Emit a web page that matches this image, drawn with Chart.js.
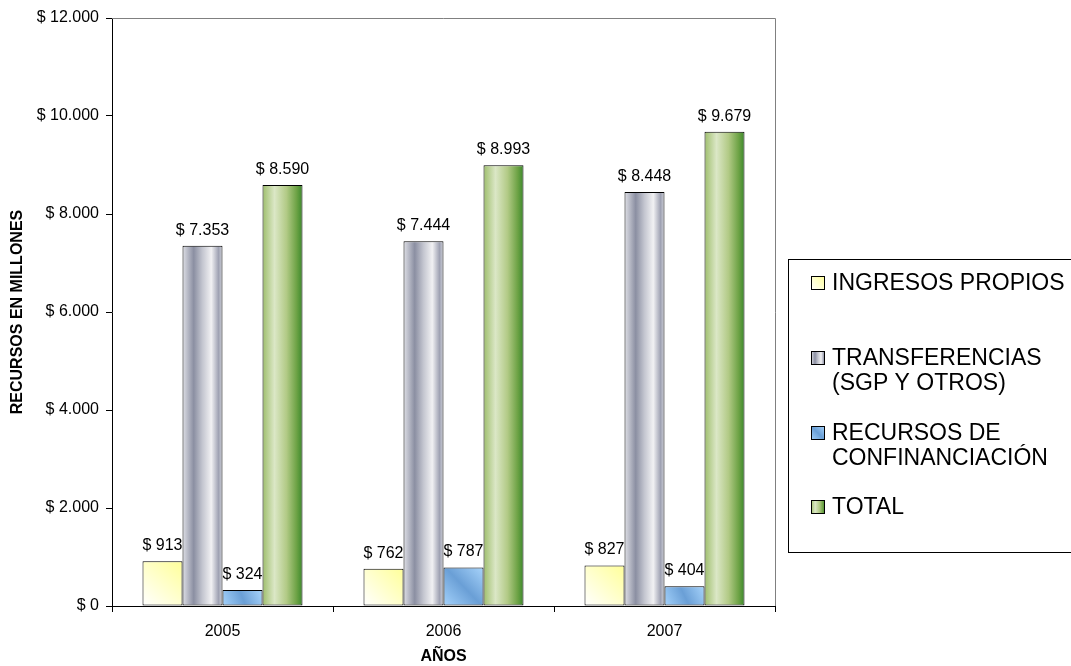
<!DOCTYPE html>
<html>
<head>
<meta charset="utf-8">
<script src="https://cdn.jsdelivr.net/npm/chart.js@4.4.0/dist/chart.umd.min.js"></script>
<style>
  html, body { margin: 0; background: #fff; }
  #wrap { position: relative; width: 1071px; height: 666px; }
</style>
</head>
<body>
<div id="wrap"><canvas id="chart"></canvas></div>
<script>
// Recursos por año (millones de pesos), cuatro series agrupadas por año.
const YEARS = ["2005", "2006", "2007"];
const INGRESOS_PROPIOS = [913, 762, 827];
const TRANSFERENCIAS = [7353, 7444, 8448];
const COFINANCIACION = [324, 787, 404];
const TOTAL = [8590, 8993, 9679];
const Y_TICKS = [0, 2000, 4000, 6000, 8000, 10000, 12000];
const LEGEND_LINES = [
  ["INGRESOS PROPIOS"],
  ["TRANSFERENCIAS", "(SGP Y OTROS)"],
  ["RECURSOS DE", "CONFINANCIACIÓN"],
  ["TOTAL"],
];

const FONT = '"Liberation Sans", Arial, sans-serif';

// gradient stops for each series (Excel-ish "preset" fills)
const FILLS = [
  { diag: true, stops: [[0, "#ffffff"], [1, "#ffff99"]] },
  { stops: [[0, "#dfe0e6"], [0.28, "#8b8fa2"], [0.5, "#c4c6d0"], [0.72, "#f1f1f3"], [0.9, "#9fa2b3"], [1, "#cfd1d9"]] },
  { diag: true, stops: [[0, "#a4d2fb"], [0.5, "#6a9fd6"], [1, "#a8d4fb"]] },
  { stops: [[0, "#9ebe6c"], [0.3, "#dbe7c6"], [0.6, "#b2ca86"], [0.85, "#6ea346"], [1, "#3b892b"]] },
];

function fmt(n) {
  return "$ " + String(n).replace(/\B(?=(\d{3})+(?!\d))/g, ".");
}

function makeFill(ctx, spec, x0, x1, top, bottom) {
  const g = spec.diag
    ? ctx.createLinearGradient(x0, bottom, x1, top)
    : ctx.createLinearGradient(x0, 0, x1, 0);
  spec.stops.forEach(([p, c]) => g.addColorStop(p, c));
  return g;
}

function series(label, data) {
  return {
    label,
    data,
    backgroundColor: () => "#cccccc", // replaced per bar at draw time
    borderColor: "#000000",
    borderWidth: 1,
    borderSkipped: false,
  };
}

// Draw bars series by series, each followed by its value labels, so the next
// series' bars sit over the previous labels (as in the original).
const barsAndLabels = {
  id: "barsAndLabels",
  beforeDatasetsDraw(chart) {
    const { ctx, chartArea: a } = chart;
    ctx.save();
    ctx.strokeStyle = "#808080";
    ctx.lineWidth = 1;
    ctx.beginPath();
    ctx.moveTo(a.left, a.top + 0.5);
    ctx.lineTo(a.right + 0.5, a.top + 0.5);
    ctx.lineTo(a.right + 0.5, a.bottom);
    ctx.stroke();
    ctx.restore();

    chart.data.datasets.forEach((ds, i) => {
      const meta = chart.getDatasetMeta(i);
      meta.data.forEach((el) => {
        const { x, y, base, width } = el.getProps(["x", "y", "base", "width"], true);
        el.options.backgroundColor = makeFill(ctx, FILLS[i], x - width / 2, x + width / 2, y, base);
        el.draw(ctx);
      });
      ctx.save();
      ctx.font = "16px " + FONT;
      ctx.fillStyle = "#000";
      ctx.textAlign = "center";
      ctx.textBaseline = "alphabetic";
      meta.data.forEach((el, j) => {
        const { x, y } = el.getProps(["x", "y"], true);
        ctx.fillText(fmt(ds.data[j]), x, y - 11);
      });
      ctx.restore();
    });
    return false;
  },
  afterDraw(chart) {
    const ctx = chart.ctx;
    ctx.save();
    ctx.strokeStyle = "#000";
    ctx.lineWidth = 1;
    ctx.strokeRect(788.5, 259.5, 400, 293);
    const centers = [283, 358, 433, 507];
    ctx.font = "23px " + FONT;
    ctx.fillStyle = "#000";
    ctx.textBaseline = "middle";
    LEGEND_LINES.forEach((lines, i) => {
      const cy = centers[i];
      ctx.fillStyle = makeFill(ctx, FILLS[i], 811, 825, cy - 7, cy + 7);
      ctx.fillRect(811, cy - 7, 14, 14);
      ctx.strokeStyle = "#000";
      ctx.strokeRect(811.5, cy - 6.5, 13, 13);
      ctx.fillStyle = "#000";
      lines.forEach((t, k) => ctx.fillText(t, 832, cy + 1 + k * 25));
    });
    ctx.restore();
  },
};

new Chart(document.getElementById("chart"), {
  type: "bar",
  data: {
    labels: YEARS,
    datasets: [
      series("INGRESOS PROPIOS", INGRESOS_PROPIOS),
      series("TRANSFERENCIAS (SGP Y OTROS)", TRANSFERENCIAS),
      series("RECURSOS DE CONFINANCIACIÓN", COFINANCIACION),
      series("TOTAL", TOTAL),
    ],
  },
  options: {
    responsive: true,
    maintainAspectRatio: false,
    animation: false,
    layout: { padding: { top: 18, right: 296, left: 0, bottom: 0 } },
    datasets: { bar: { barPercentage: 1, categoryPercentage: 0.724 } },
    scales: {
      x: {
        afterFit: (s) => { s.height = 60; },
        grid: { offset: true, drawOnChartArea: false, color: "#000", tickLength: 6 },
        border: { color: "#000", width: 1 },
        ticks: { color: "#000", padding: 10, font: { family: FONT, size: 16 } },
        title: {
          display: true,
          text: "AÑOS",
          color: "#000",
          padding: { top: 0, bottom: 0 },
          font: { family: FONT, size: 16, weight: "bold" },
        },
      },
      y: {
        min: 0,
        max: 12000,
        afterFit: (s) => { s.width = 112; },
        afterBuildTicks: (s) => { s.ticks = Y_TICKS.map((v) => ({ value: v })); },
        grid: { drawOnChartArea: false, color: "#000", tickLength: 6 },
        border: { color: "#000", width: 1 },
        ticks: { color: "#000", padding: 7, font: { family: FONT, size: 16 }, callback: (v) => fmt(v) },
        title: {
          display: true,
          text: "RECURSOS EN MILLONES",
          color: "#000",
          padding: { top: 8, bottom: 0 },
          font: { family: FONT, size: 16, weight: "bold" },
        },
      },
    },
    plugins: { legend: { display: false }, tooltip: { enabled: false } },
  },
  plugins: [barsAndLabels],
});
</script>
</body>
</html>
